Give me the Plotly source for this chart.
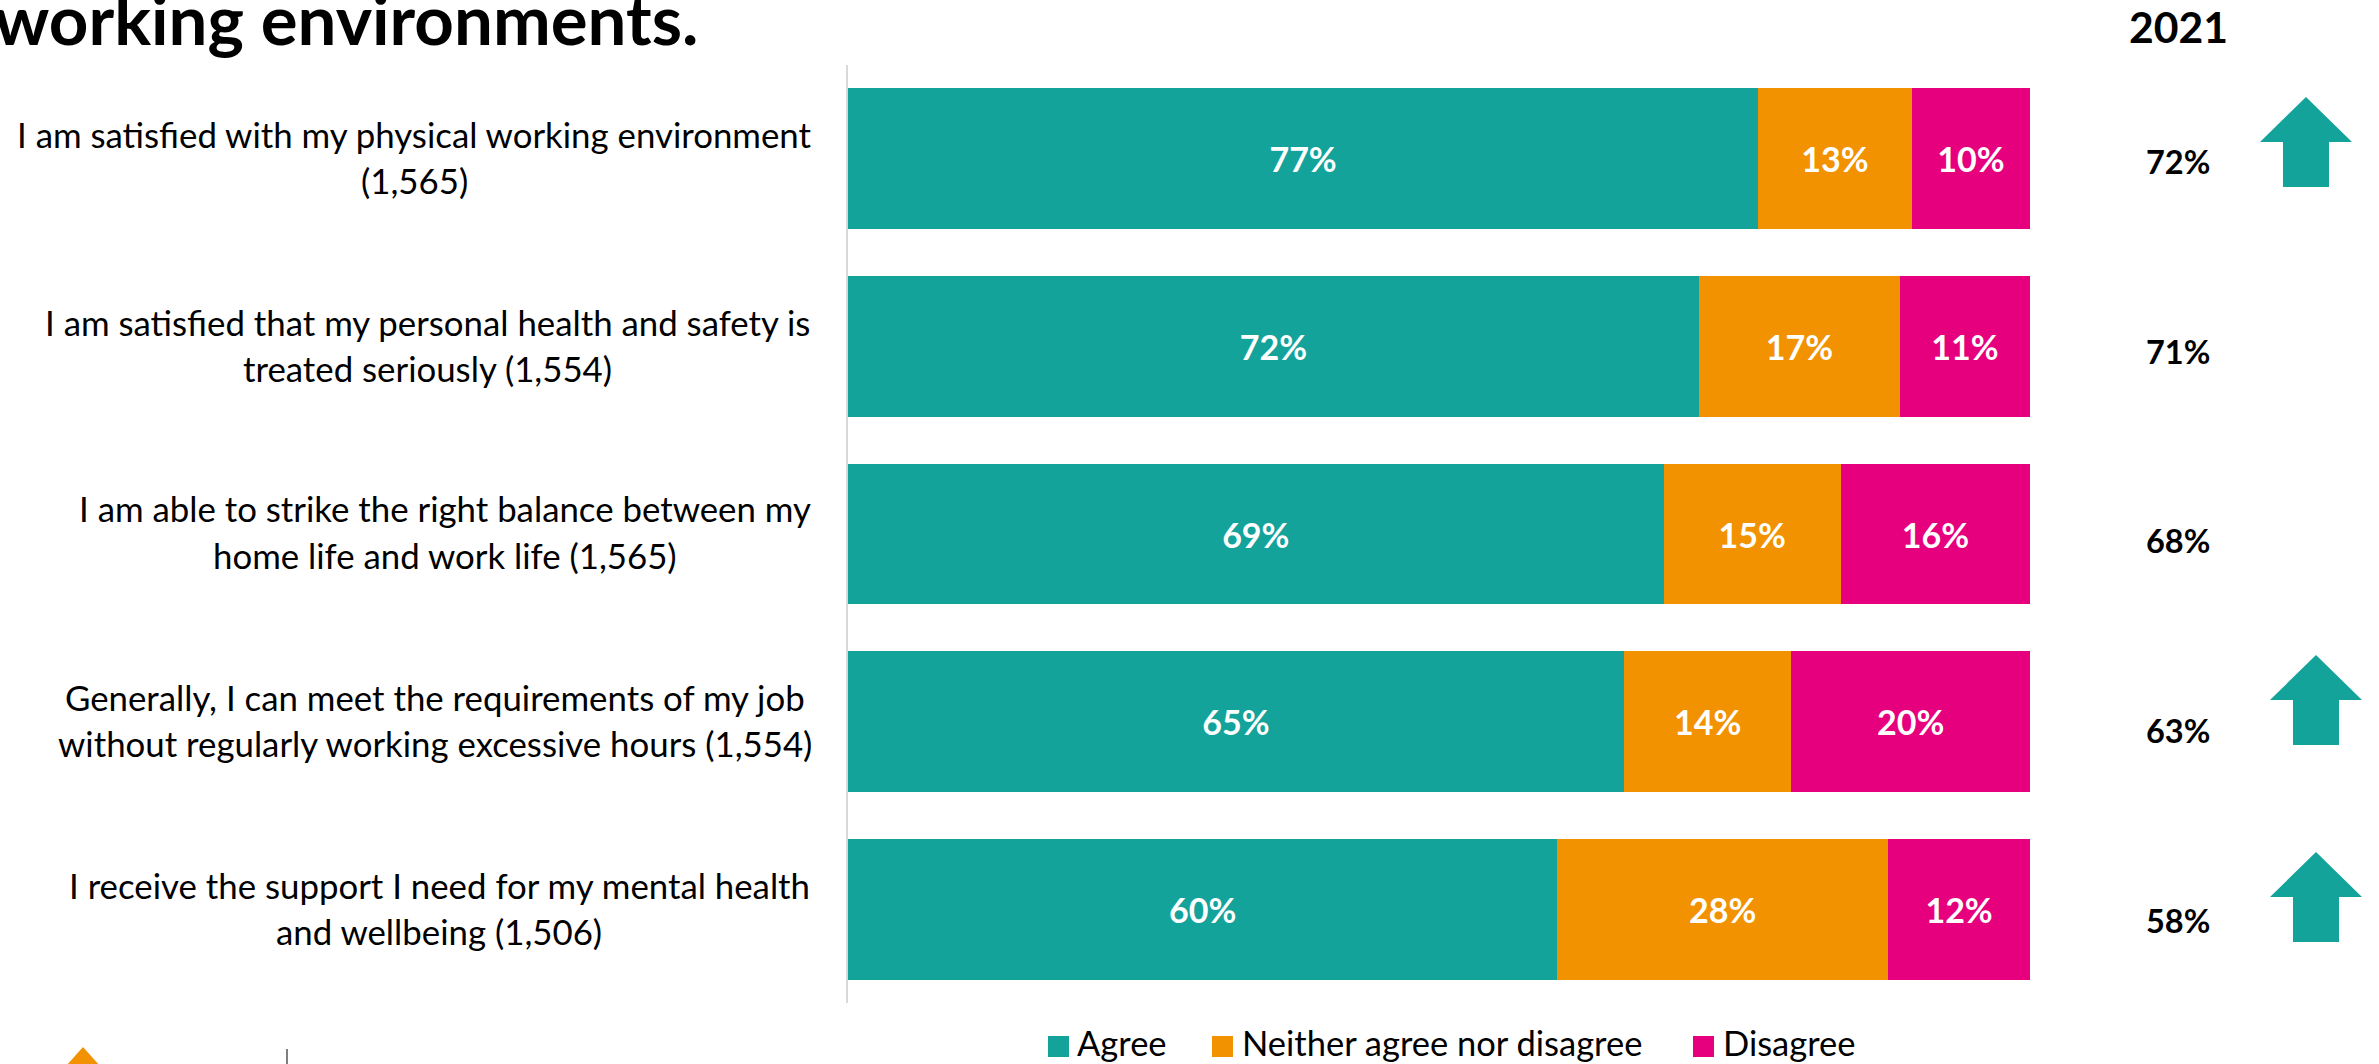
import plotly.graph_objects as go

# Survey statements, one line per list entry
statements = [
    ["I am satisfied with my physical working environment", "(1,565)"],
    ["I am satisfied that my personal health and safety is", "treated seriously (1,554)"],
    ["I am able to strike the right balance between my", "home life and work life (1,565)"],
    ["Generally, I can meet the requirements of my job", "without regularly working excessive hours (1,554)"],
    ["I receive the support I need for my mental health", "and wellbeing (1,506)"],
]
categories = [" ".join(lines) for lines in statements]

agree = [77, 72, 69, 65, 60]
neither = [13, 17, 15, 14, 28]
disagree = [10, 11, 16, 20, 12]
previous_year = ["72%", "71%", "68%", "63%", "58%"]
series_names = ["Agree", "Neither agree nor disagree", "Disagree"]

TEAL, ORANGE, MAGENTA = "#13A39B", "#F39200", "#E6007E"
FONT = "Lato"
W, H = 2379, 1064
LEFT, RIGHT, TOP, BOTTOM = 848, 2030, 65, 1003


def px(x):
    # page pixel to paper fraction of the plot area
    return (x - LEFT) / (RIGHT - LEFT)


def py(y):
    return 1 - (y - TOP) / (BOTTOM - TOP)


fig = go.Figure()
for name, values, colour in zip(series_names, [agree, neither, disagree], [TEAL, ORANGE, MAGENTA]):
    fig.add_trace(go.Bar(
        name=name, y=categories, x=values, orientation="h", marker_color=colour,
        marker_line_width=0, text=[f"{v}%" for v in values], textposition="inside",
        insidetextanchor="middle", textangle=0,
        textfont=dict(family=FONT, size=34, color="white", weight="bold"),
        hoverinfo="skip", showlegend=False,
    ))

annotations = []
shapes = []


def label(x, y, text, size=34.8, bold=False, anchor="center", yanchor="middle"):
    annotations.append(dict(
        xref="paper", yref="paper", x=px(x), y=py(y), text=f"<b>{text}</b>" if bold else text,
        showarrow=False, xanchor=anchor, yanchor=yanchor, align="center",
        font=dict(family=FONT, size=size, color="black"), borderpad=0, borderwidth=0,
    ))


# Statement labels to the left of the bars, centred line by line
line_centres = [414, 427, 445, 435, 439]
line_tops = [134, 323, 509, 697, 885]
for lines, cx, top in zip(statements, line_centres, line_tops):
    for k, line in enumerate(lines):
        label(cx, top + 46 * k, line)

# Headline and column heading
label(-6, 19, "working environments.", size=69, bold=True, anchor="left")
label(2178, 27, "2021", size=42.7, bold=True)

# Values from the previous survey wave
for text, y in zip(previous_year, [161, 351, 540, 730, 920]):
    label(2178, y, text, size=32.5, bold=True)


def arrow(cx, top):
    pts = [(cx, top), (cx + 46, top + 45), (cx + 23, top + 45), (cx + 23, top + 90),
           (cx - 23, top + 90), (cx - 23, top + 45), (cx - 46, top + 45)]
    path = "M" + " L".join(f"{px(a):.5f},{py(b):.5f}" for a, b in pts) + " Z"
    shapes.append(dict(type="path", xref="paper", yref="paper", path=path,
                       fillcolor=TEAL, line_width=0))


# Up arrows mark the statements that improved
for cx, top in [(2306, 97), (2316, 655), (2316, 852)]:
    arrow(cx, top)

# Hand-laid legend under the bars
for name, colour, sx, tx in zip(series_names, [TEAL, ORANGE, MAGENTA], [1048, 1212, 1693], [1077, 1242, 1723]):
    shapes.append(dict(type="rect", xref="paper", yref="paper", x0=px(sx), x1=px(sx + 21),
                       y0=py(1057), y1=py(1036), fillcolor=colour, line_width=0))
    label(tx, 1042, name, size=34.5, anchor="left")

# Start of the key running off the lower edge
shapes.append(dict(type="path", xref="paper", yref="paper",
                   path=f"M{px(83):.5f},{py(1047):.5f} L{px(100):.5f},{py(1066):.5f} L{px(66):.5f},{py(1066):.5f} Z",
                   fillcolor=ORANGE, line_width=0))
shapes.append(dict(type="line", xref="paper", yref="paper", x0=px(287), x1=px(287),
                   y0=py(1049), y1=py(1066), line=dict(color="#7F7F7F", width=2)))

fig.update_layout(
    barmode="stack", barnorm="percent", bargap=0.25,
    width=W, height=H, margin=dict(l=LEFT, r=W - RIGHT, t=TOP, b=H - BOTTOM, autoexpand=False),
    paper_bgcolor="white", plot_bgcolor="white",
    annotations=annotations, shapes=shapes, showlegend=False,
    xaxis=dict(range=[0, 100], visible=False, fixedrange=True),
    yaxis=dict(autorange="reversed", showticklabels=False, ticks="", showgrid=False,
               showline=True, linecolor="#D9D9D9", linewidth=2, zeroline=False, fixedrange=True),
)

fig.write_html("out.html", config={"displayModeBar": False})
